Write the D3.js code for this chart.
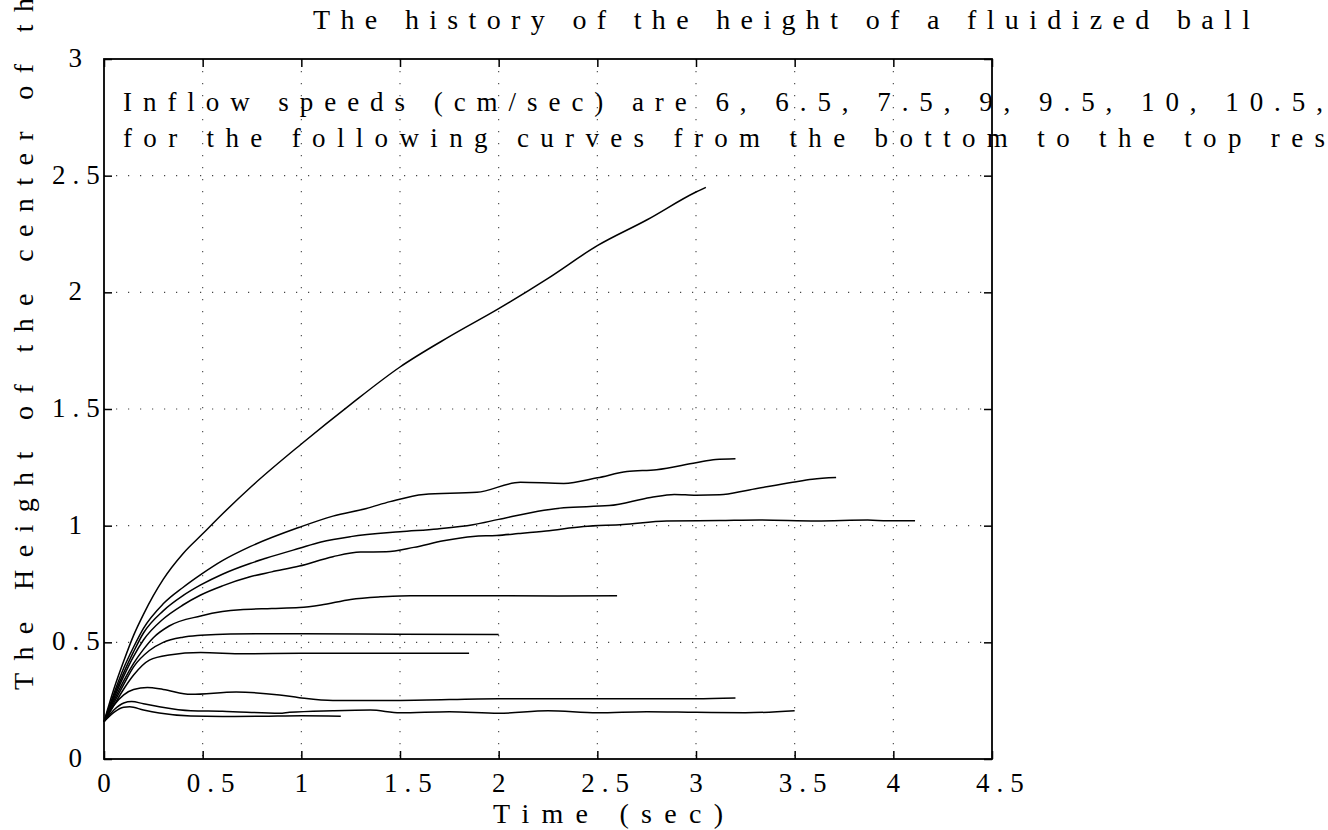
<!DOCTYPE html>
<html>
<head>
<meta charset="utf-8">
<script src="https://cdn.jsdelivr.net/npm/d3@7"></script>
</head>
<body style="margin:0">
<div id="chart"></div>
<script>
// tick values and labels
const xTicks = [0, 0.5, 1, 1.5, 2, 2.5, 3, 3.5, 4, 4.5];
const xTickLabels = ["0", "0.5", "1", "1.5", "2", "2.5", "3", "3.5", "4", "4.5"];
const yTicks = [0, 0.5, 1, 1.5, 2, 2.5, 3];
const yTickLabels = ["0", "0.5", "1", "1.5", "2", "2.5", "3"];

// curves, bottom to top: [time (sec), height]
const c1 = [[0,0.16],[0.05,0.2],[0.1,0.222],[0.13,0.224],[0.2,0.21],[0.28,0.197],[0.44,0.184],[0.6,0.182],[0.8,0.183],[1.0,0.185],[1.2,0.183]];
const c2 = [[0,0.16],[0.05,0.21],[0.1,0.24],[0.14,0.246],[0.2,0.237],[0.28,0.224],[0.44,0.207],[0.6,0.205],[0.89,0.196],[0.94,0.2],[1.16,0.207],[1.35,0.21],[1.5,0.198],[1.75,0.203],[2.0,0.196],[2.25,0.207],[2.5,0.198],[2.75,0.203],[3.0,0.2],[3.25,0.198],[3.5,0.207]];
const c3 = [[0,0.16],[0.05,0.23],[0.1,0.275],[0.15,0.298],[0.22,0.306],[0.3,0.298],[0.44,0.277],[0.67,0.287],[0.89,0.274],[0.99,0.263],[1.16,0.251],[1.5,0.251],[2.0,0.258],[2.5,0.258],[3.0,0.258],[3.2,0.261]];
const c4 = [[0,0.16],[0.05,0.23],[0.1,0.3],[0.15,0.36],[0.23,0.424],[0.33,0.446],[0.49,0.456],[0.71,0.451],[1.0,0.453],[1.5,0.453],[1.85,0.453]];
const c5 = [[0,0.16],[0.05,0.24],[0.1,0.32],[0.15,0.395],[0.23,0.465],[0.3,0.5],[0.4,0.522],[0.49,0.53],[0.64,0.536],[1.0,0.537],[1.5,0.535],[2.0,0.534]];
const c6 = [[0,0.16],[0.05,0.25],[0.1,0.335],[0.15,0.41],[0.2,0.47],[0.25,0.52],[0.33,0.57],[0.49,0.613],[0.6,0.632],[0.69,0.64],[0.85,0.645],[0.99,0.649],[1.1,0.66],[1.25,0.684],[1.4,0.695],[1.5,0.699],[1.75,0.7],[2.0,0.7],[2.3,0.699],[2.6,0.7]];
const c7 = [[0,0.16],[0.05,0.26],[0.1,0.355],[0.15,0.44],[0.2,0.51],[0.3,0.6],[0.4,0.66],[0.49,0.703],[0.6,0.742],[0.74,0.781],[0.85,0.802],[0.99,0.827],[1.16,0.867],[1.3,0.887],[1.43,0.888],[1.57,0.907],[1.72,0.935],[1.87,0.954],[1.99,0.958],[2.1,0.966],[2.24,0.977],[2.43,0.996],[2.63,1.005],[2.85,1.02],[3.12,1.022],[3.32,1.024],[3.61,1.02],[3.87,1.024],[3.97,1.021],[4.11,1.021]];
const c8 = [[0,0.16],[0.05,0.27],[0.1,0.37],[0.15,0.46],[0.2,0.54],[0.3,0.635],[0.4,0.7],[0.49,0.746],[0.6,0.792],[0.74,0.838],[0.82,0.86],[0.99,0.903],[1.1,0.93],[1.25,0.953],[1.5,0.974],[1.69,0.986],[1.87,1.004],[2.0,1.027],[2.23,1.066],[2.33,1.077],[2.56,1.086],[2.77,1.121],[2.89,1.134],[3.0,1.13],[3.12,1.132],[3.27,1.153],[3.49,1.186],[3.59,1.199],[3.71,1.206]];
const c9 = [[0,0.16],[0.05,0.28],[0.1,0.39],[0.15,0.48],[0.2,0.56],[0.3,0.665],[0.4,0.735],[0.49,0.79],[0.6,0.85],[0.74,0.91],[0.99,0.993],[1.16,1.041],[1.33,1.074],[1.45,1.103],[1.62,1.134],[1.89,1.143],[2.11,1.186],[2.33,1.181],[2.5,1.205],[2.65,1.232],[2.8,1.24],[3.0,1.27],[3.1,1.284],[3.2,1.287]];
const c10 = [[0,0.16],[0.05,0.3],[0.1,0.42],[0.15,0.53],[0.2,0.62],[0.25,0.7],[0.3,0.77],[0.4,0.88],[0.5,0.965],[0.6,1.05],[0.75,1.17],[1.0,1.35],[1.25,1.52],[1.5,1.68],[1.75,1.81],[2.0,1.93],[2.25,2.06],[2.5,2.2],[2.75,2.31],[3.0,2.43],[3.05,2.45]];

const curves = [c1, c2, c3, c4, c5, c6, c7, c8, c9, c10];

const width = 1328;
const height = 830;
const margin = { top: 59, left: 104, bottom: 71, right: 336 };
const iwidth = width - margin.left - margin.right;
const iheight = height - margin.top - margin.bottom;
const serif = '"Liberation Serif", serif';

const svg = d3.select("#chart").append("svg")
  .attr("width", width)
  .attr("height", height);

svg.append("rect").attr("width", width).attr("height", height).attr("fill", "#fff");

const x = d3.scaleLinear().domain([0, 4.5]).range([0, iwidth]);
const y = d3.scaleLinear().domain([0, 3]).range([iheight, 0]);

const g = svg.append("g").attr("transform", `translate(${margin.left},${margin.top})`);

// dotted grid
g.append("g").selectAll("line").data(xTicks.slice(1, -1)).join("line")
  .attr("x1", d => x(d)).attr("x2", d => x(d))
  .attr("y1", 0).attr("y2", iheight)
  .attr("stroke", "#444").attr("stroke-width", 1.1)
  .attr("stroke-dasharray", "1.2 10.8");
g.append("g").selectAll("line").data(yTicks.slice(1, -1)).join("line")
  .attr("x1", 0).attr("x2", iwidth)
  .attr("y1", d => y(d)).attr("y2", d => y(d))
  .attr("stroke", "#444").attr("stroke-width", 1.1)
  .attr("stroke-dasharray", "1.2 10.8");

// ticks on all four sides, pointing inward
const styleAxis = sel => {
  sel.select(".domain").remove();
  sel.selectAll(".tick line").attr("stroke", "#000").attr("stroke-width", 1.5);
};
g.append("g").attr("transform", `translate(0,${iheight})`)
  .call(d3.axisBottom(x).tickValues(xTicks).tickSize(-8).tickFormat("")).call(styleAxis);
g.append("g")
  .call(d3.axisTop(x).tickValues(xTicks).tickSize(-8).tickFormat("")).call(styleAxis);
g.append("g")
  .call(d3.axisLeft(y).tickValues(yTicks).tickSize(-8).tickFormat("")).call(styleAxis);
g.append("g").attr("transform", `translate(${iwidth},0)`)
  .call(d3.axisRight(y).tickValues(yTicks).tickSize(-8).tickFormat("")).call(styleAxis);

// box
g.append("rect")
  .attr("x", 0).attr("y", 0).attr("width", iwidth).attr("height", iheight)
  .attr("fill", "none").attr("stroke", "#000").attr("stroke-width", 1.8);

// curves
const line = d3.line()
  .x(d => x(d[0]))
  .y(d => y(d[1]))
  .curve(d3.curveMonotoneX);

g.append("g").selectAll("path").data(curves).join("path")
  .attr("d", line)
  .attr("fill", "none")
  .attr("stroke", "#000")
  .attr("stroke-width", 1.5);

// tick labels
const hasDot = s => s.includes(".");
g.append("g").selectAll("text").data(xTicks).join("text")
  .style("font-family", serif)
  .attr("x", (d, i) => hasDot(xTickLabels[i]) ? x(d) - 16 : x(d))
  .attr("y", iheight + 33)
  .attr("text-anchor", (d, i) => hasDot(xTickLabels[i]) ? "start" : "middle")
  .attr("font-size", 27)
  .attr("letter-spacing", (d, i) => hasDot(xTickLabels[i]) ? 7 : 0)
  .text((d, i) => xTickLabels[i]);

g.append("g").selectAll("text").data(yTicks).join("text")
  .style("font-family", serif)
  .attr("x", (d, i) => hasDot(yTickLabels[i]) ? -52 : -22)
  .attr("y", d => y(d) + 8)
  .attr("text-anchor", (d, i) => hasDot(yTickLabels[i]) ? "start" : "end")
  .attr("font-size", 27)
  .attr("letter-spacing", (d, i) => hasDot(yTickLabels[i]) ? 7 : 0)
  .text((d, i) => yTickLabels[i]);

// title and labels
const label = (txt, size, len) => svg.append("text")
  .style("font-family", serif)
  .attr("font-size", size)
  .attr("textLength", len).attr("lengthAdjust", "spacing")
  .text(txt);

label("The history of the height of a fluidized ball", 28, 937)
  .attr("x", 313).attr("y", 29);

label("Time (sec)", 28, 230)
  .attr("x", 493).attr("y", 823);

label("The Height of the center of th", 28, 692)
  .attr("transform", "translate(33,690) rotate(-90)");

label("Inflow speeds (cm/sec) are 6, 6.5, 7.5, 9, 9.5, 10, 10.5,", 27, 1200)
  .attr("x", 123).attr("y", 111);

label("for the following curves from the bottom to the top res", 27, 1202)
  .attr("x", 123).attr("y", 147);
</script>
</body>
</html>
